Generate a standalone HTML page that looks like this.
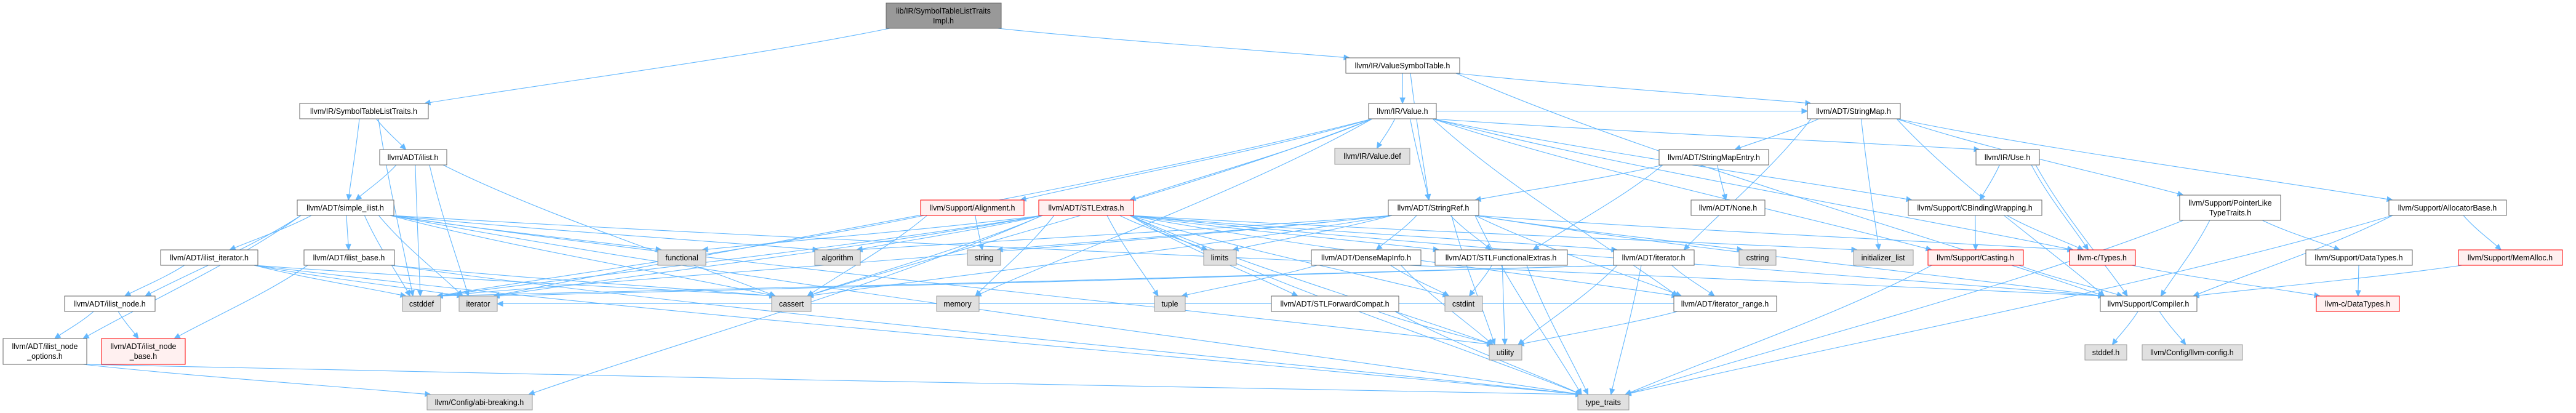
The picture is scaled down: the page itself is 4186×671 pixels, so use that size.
<!DOCTYPE html>
<html><head><meta charset="utf-8"><style>
html,body{margin:0;padding:0;background:#fff;}
svg{display:block;}
text{font-family:"Liberation Sans",Arial,sans-serif;font-size:12.5px;fill:#000;}
</style></head><body>
<svg id="g" width="4186" height="671" viewBox="0 0 4186 671" xmlns="http://www.w3.org/2000/svg">
<g id="edges" fill="none" stroke="#63b8ff" stroke-width="1.1"></g>
<g id="arrows" fill="#63b8ff" stroke="#63b8ff"></g>
<g id="nodes">
<rect x="1440" y="5" width="187" height="41" fill="#999" stroke="#666"/><text x="1533" y="22" text-anchor="middle">lib/IR/SymbolTableListTraits</text><text x="1533" y="38" text-anchor="middle">Impl.h</text>
<rect x="487" y="168" width="209" height="25" fill="#fff" stroke="#666"/><text x="591" y="185" text-anchor="middle">llvm/IR/SymbolTableListTraits.h</text>
<rect x="617" y="243" width="109" height="25" fill="#fff" stroke="#666"/><text x="671" y="260" text-anchor="middle">llvm/ADT/ilist.h</text>
<rect x="483" y="325" width="157" height="25" fill="#fff" stroke="#666"/><text x="561" y="342" text-anchor="middle">llvm/ADT/simple_ilist.h</text>
<rect x="261" y="406" width="158" height="25" fill="#fff" stroke="#666"/><text x="340" y="423" text-anchor="middle">llvm/ADT/ilist_iterator.h</text>
<rect x="494" y="406" width="147" height="25" fill="#fff" stroke="#666"/><text x="567" y="423" text-anchor="middle">llvm/ADT/ilist_base.h</text>
<rect x="105" y="481" width="147" height="25" fill="#fff" stroke="#666"/><text x="178" y="498" text-anchor="middle">llvm/ADT/ilist_node.h</text>
<rect x="5" y="550" width="136" height="42" fill="#fff" stroke="#666"/><text x="73" y="567" text-anchor="middle">llvm/ADT/ilist_node</text><text x="73" y="583" text-anchor="middle">_options.h</text>
<rect x="165" y="550" width="136" height="42" fill="#fff0f0" stroke="#f00"/><text x="233" y="567" text-anchor="middle">llvm/ADT/ilist_node</text><text x="233" y="583" text-anchor="middle">_base.h</text>
<rect x="654" y="481" width="62" height="25" fill="#e0e0e0" stroke="#999"/><text x="685" y="498" text-anchor="middle">cstddef</text>
<rect x="746" y="481" width="62" height="25" fill="#e0e0e0" stroke="#999"/><text x="777" y="498" text-anchor="middle">iterator</text>
<rect x="1069" y="406" width="78" height="25" fill="#e0e0e0" stroke="#999"/><text x="1108" y="423" text-anchor="middle">functional</text>
<rect x="1324" y="406" width="74" height="25" fill="#e0e0e0" stroke="#999"/><text x="1361" y="423" text-anchor="middle">algorithm</text>
<rect x="1254" y="481" width="64" height="25" fill="#e0e0e0" stroke="#999"/><text x="1286" y="498" text-anchor="middle">cassert</text>
<rect x="694" y="641" width="171" height="25" fill="#e0e0e0" stroke="#999"/><text x="779" y="658" text-anchor="middle">llvm/Config/abi-breaking.h</text>
<rect x="1496" y="325" width="168" height="25" fill="#fff0f0" stroke="#f00"/><text x="1580" y="342" text-anchor="middle">llvm/Support/Alignment.h</text>
<rect x="1688" y="325" width="154" height="25" fill="#fff0f0" stroke="#f00"/><text x="1765" y="342" text-anchor="middle">llvm/ADT/STLExtras.h</text>
<rect x="1572" y="406" width="54" height="25" fill="#e0e0e0" stroke="#999"/><text x="1599" y="423" text-anchor="middle">string</text>
<rect x="1956" y="406" width="53" height="25" fill="#e0e0e0" stroke="#999"/><text x="1982" y="423" text-anchor="middle">limits</text>
<rect x="1522" y="481" width="69" height="25" fill="#e0e0e0" stroke="#999"/><text x="1556" y="498" text-anchor="middle">memory</text>
<rect x="1876" y="481" width="50" height="25" fill="#e0e0e0" stroke="#999"/><text x="1901" y="498" text-anchor="middle">tuple</text>
<rect x="2066" y="481" width="207" height="25" fill="#fff" stroke="#666"/><text x="2169" y="498" text-anchor="middle">llvm/ADT/STLForwardCompat.h</text>
<rect x="2187" y="94" width="185" height="25" fill="#fff" stroke="#666"/><text x="2279" y="111" text-anchor="middle">llvm/IR/ValueSymbolTable.h</text>
<rect x="2224" y="168" width="110" height="25" fill="#fff" stroke="#666"/><text x="2279" y="185" text-anchor="middle">llvm/IR/Value.h</text>
<rect x="2169" y="241" width="122" height="26" fill="#e0e0e0" stroke="#999"/><text x="2230" y="258" text-anchor="middle">llvm/IR/Value.def</text>
<rect x="2696" y="243" width="178" height="25" fill="#fff" stroke="#666"/><text x="2785" y="260" text-anchor="middle">llvm/ADT/StringMapEntry.h</text>
<rect x="2256" y="325" width="147" height="25" fill="#fff" stroke="#666"/><text x="2329" y="342" text-anchor="middle">llvm/ADT/StringRef.h</text>
<rect x="2748" y="325" width="120" height="25" fill="#fff" stroke="#666"/><text x="2808" y="342" text-anchor="middle">llvm/ADT/None.h</text>
<rect x="2131" y="406" width="178" height="25" fill="#fff" stroke="#666"/><text x="2220" y="423" text-anchor="middle">llvm/ADT/DenseMapInfo.h</text>
<rect x="2332" y="406" width="215" height="25" fill="#fff" stroke="#666"/><text x="2439" y="423" text-anchor="middle">llvm/ADT/STLFunctionalExtras.h</text>
<rect x="2622" y="406" width="131" height="25" fill="#fff" stroke="#666"/><text x="2687" y="423" text-anchor="middle">llvm/ADT/iterator.h</text>
<rect x="2348" y="481" width="61" height="25" fill="#e0e0e0" stroke="#999"/><text x="2378" y="498" text-anchor="middle">cstdint</text>
<rect x="2720" y="481" width="167" height="25" fill="#fff" stroke="#666"/><text x="2803" y="498" text-anchor="middle">llvm/ADT/iterator_range.h</text>
<rect x="2420" y="560" width="53" height="25" fill="#e0e0e0" stroke="#999"/><text x="2446" y="577" text-anchor="middle">utility</text>
<rect x="2564" y="641" width="83" height="25" fill="#e0e0e0" stroke="#999"/><text x="2605" y="658" text-anchor="middle">type_traits</text>
<rect x="2937" y="168" width="151" height="25" fill="#fff" stroke="#666"/><text x="3012" y="185" text-anchor="middle">llvm/ADT/StringMap.h</text>
<rect x="3211" y="243" width="103" height="25" fill="#fff" stroke="#666"/><text x="3262" y="260" text-anchor="middle">llvm/IR/Use.h</text>
<rect x="3101" y="325" width="217" height="25" fill="#fff" stroke="#666"/><text x="3209" y="342" text-anchor="middle">llvm/Support/CBindingWrapping.h</text>
<rect x="2826" y="406" width="60" height="25" fill="#e0e0e0" stroke="#999"/><text x="2856" y="423" text-anchor="middle">cstring</text>
<rect x="3012" y="406" width="97" height="25" fill="#e0e0e0" stroke="#999"/><text x="3060" y="423" text-anchor="middle">initializer_list</text>
<rect x="3133" y="406" width="155" height="25" fill="#fff0f0" stroke="#f00"/><text x="3210" y="423" text-anchor="middle">llvm/Support/Casting.h</text>
<rect x="3363" y="406" width="107" height="25" fill="#fff0f0" stroke="#f00"/><text x="3416" y="423" text-anchor="middle">llvm-c/Types.h</text>
<rect x="3413" y="481" width="157" height="25" fill="#fff" stroke="#666"/><text x="3491" y="498" text-anchor="middle">llvm/Support/Compiler.h</text>
<rect x="3388" y="560" width="68" height="25" fill="#e0e0e0" stroke="#999"/><text x="3422" y="577" text-anchor="middle">stddef.h</text>
<rect x="3481" y="560" width="163" height="25" fill="#e0e0e0" stroke="#999"/><text x="3562" y="577" text-anchor="middle">llvm/Config/llvm-config.h</text>
<rect x="3542" y="317" width="164" height="41" fill="#fff" stroke="#666"/><text x="3624" y="334" text-anchor="middle">llvm/Support/PointerLike</text><text x="3624" y="350" text-anchor="middle">TypeTraits.h</text>
<rect x="3882" y="325" width="191" height="25" fill="#fff" stroke="#666"/><text x="3977" y="342" text-anchor="middle">llvm/Support/AllocatorBase.h</text>
<rect x="3747" y="406" width="173" height="25" fill="#fff" stroke="#666"/><text x="3833" y="423" text-anchor="middle">llvm/Support/DataTypes.h</text>
<rect x="3995" y="406" width="169" height="25" fill="#fff0f0" stroke="#f00"/><text x="4079" y="423" text-anchor="middle">llvm/Support/MemAlloc.h</text>
<rect x="3764" y="481" width="135" height="25" fill="#fff0f0" stroke="#f00"/><text x="3831" y="498" text-anchor="middle">llvm-c/DataTypes.h</text>
</g>
</svg>
<script>
var N={A:[1440,1627,5,46],B:[487,696,168,193],C:[617,726,243,268],D:[483,640,325,350],E:[261,419,406,431],F:[494,641,406,431],G:[105,252,481,506],H:[5,141,550,592],I:[165,301,550,592],J:[654,716,481,506],K:[746,808,481,506],L:[1069,1147,406,431],M:[1324,1398,406,431],Nn:[1254,1318,481,506],O:[694,865,641,666],P:[1496,1664,325,350],Q:[1688,1842,325,350],R:[1572,1626,406,431],S:[1956,2009,406,431],T:[1522,1591,481,506],U:[1876,1926,481,506],V:[2066,2273,481,506],W:[2187,2372,94,119],X:[2224,2334,168,193],Y:[2169,2291,241,267],Z:[2696,2874,243,268],a:[2256,2403,325,350],b:[2748,2868,325,350],c:[2131,2309,406,431],d:[2332,2547,406,431],e:[2622,2753,406,431],f:[2348,2409,481,506],g:[2720,2887,481,506],h:[2420,2473,560,585],i:[2564,2647,641,666],j:[2937,3088,168,193],k:[3211,3314,243,268],l:[3101,3318,325,350],m:[2826,2886,406,431],n:[3012,3109,406,431],o:[3133,3288,406,431],p:[3363,3470,406,431],q:[3413,3570,481,506],r:[3388,3456,560,585],s:[3481,3644,560,585],t:[3542,3706,317,358],u:[3882,4073,325,350],v:[3747,3920,406,431],w:[3995,4164,406,431],x:[3764,3899,481,506]};
var E="A-B A-W W-X W-a W-j W-q B-C B-D B-J C-D C-J C-K C-Nn D-E D-F D-G D-H D-J D-K D-Nn D-M D-L D-h D-i D-q E-G E-J E-K E-i E-Nn F-I F-Nn F-i G-H G-I H-O H-i X-Y X-a X-Q X-P X-k X-j X-g X-l X-o X-p X-Nn X-K X-T P-Nn P-R P-J Q-V Q-d Q-e Q-g Q-O Q-q Q-M Q-Nn Q-J Q-f Q-L Q-n Q-K Q-S Q-T Q-U Q-i Q-h a-c a-d a-g a-q a-M a-Nn a-J a-m a-S a-R a-i a-h a-p j-Z j-e j-n j-t j-u j-q Z-a Z-b Z-d k-l k-p k-q l-o l-p c-f c-h c-U d-f d-h d-i e-g e-h e-i e-K e-J g-h g-K V-i V-h o-q o-i p-x q-r q-s t-v t-q t-i u-w u-q u-i v-x w-q".split(" ");
var ns="http://www.w3.org/2000/svg",eg=document.getElementById("edges"),ag=document.getElementById("arrows");
function cl(v,a,b){return Math.max(a+6,Math.min(b-6,v));}
E.forEach(function(s){var p=s.split("-"),A=N[p[0]],B=N[p[1]];
var acx=(A[0]+A[1])/2,bcx=(B[0]+B[1])/2,sx,sy,tx,ty,c1x,c1y,c2x,c2y;
if(B[2]>=A[3]-2){sx=cl(acx+(bcx-acx)*0.25,A[0],A[1]);sy=A[3];tx=cl(bcx+(acx-bcx)*0.15,B[0],B[1]);ty=B[2];var dy=ty-sy,ddx=tx-sx;c1x=sx+ddx*0.3;c1y=sy+dy*0.38;c2x=sx+ddx*0.7;c2y=sy+dy*0.7;}
else{var acy=(A[2]+A[3])/2,bcy=(B[2]+B[3])/2;if(bcx>acx){sx=A[1];tx=B[0];}else{sx=A[0];tx=B[1];}sy=acy;ty=bcy;c1x=sx+(tx-sx)*0.4;c1y=sy;c2x=sx+(tx-sx)*0.6;c2y=ty;}
var dx=tx-c2x,dyy=ty-c2y,L=Math.sqrt(dx*dx+dyy*dyy)||1;dx/=L;dyy/=L;
var ex=tx-dx*9,ey=ty-dyy*9;
var path=document.createElementNS(ns,"path");path.setAttribute("d","M"+sx+","+sy+" C"+c1x+","+c1y+" "+c2x+","+c2y+" "+ex+","+ey);eg.appendChild(path);
var px=-dyy,py=dx,poly=document.createElementNS(ns,"polygon");
poly.setAttribute("points",tx+","+ty+" "+(ex+px*4)+","+(ey+py*4)+" "+(ex-px*4)+","+(ey-py*4));ag.appendChild(poly);});
</script>
</body></html>
